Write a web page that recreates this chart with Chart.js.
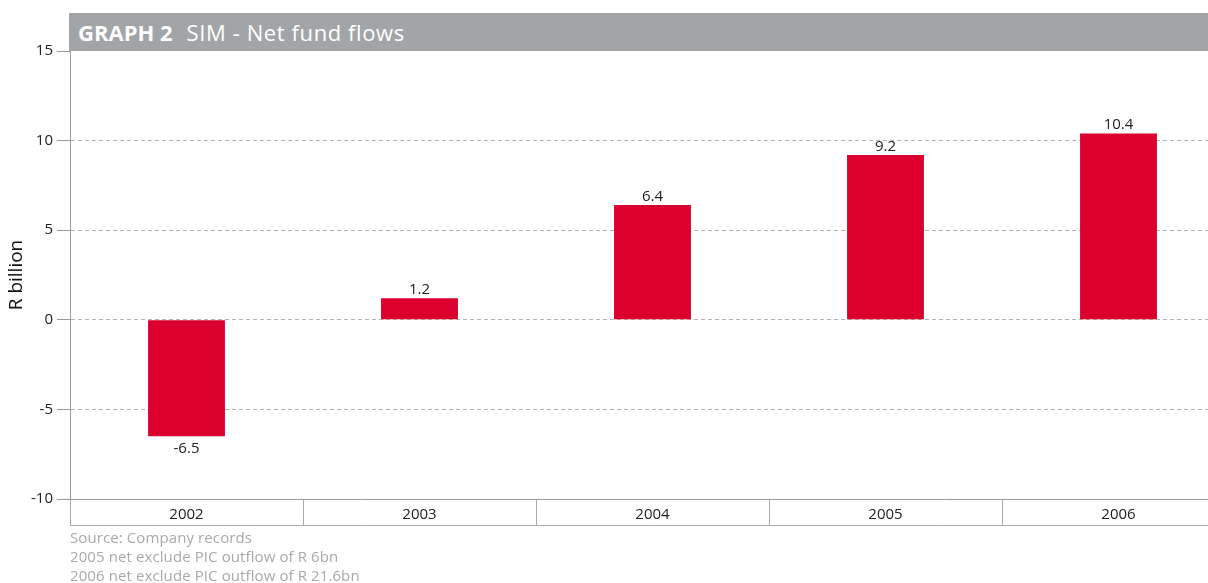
<!DOCTYPE html>
<html>
<head>
<meta charset="utf-8">
<script src="https://cdn.jsdelivr.net/npm/chart.js@4.4.1/dist/chart.umd.min.js"></script>
<style>
  html, body { margin: 0; padding: 0; background: #fff; overflow: hidden; }
  body { width: 1208px; height: 583px; position: relative; font-family: "Open Sans", sans-serif; }
  #wrap { position: absolute; left: 0; top: 0; width: 1235px; height: 583px; }
  #titlebar {
    position: absolute; left: 69px; top: 13px; width: 1139px; height: 38px;
    background: #a2a5a8; color: #fff; font-size: 22px; line-height: 38px;
    padding-left: 9px; box-sizing: border-box; white-space: nowrap;
  }
  #titlebar b { font-weight: 700; margin-right: 14px; }
  #titlebar span { letter-spacing: 0.6px; }
  #notes {
    position: absolute; left: 70px; top: 528px; color: #a9a9a9;
    font-size: 15px; line-height: 19px; letter-spacing: 0.1px;
  }
</style>
</head>
<body>
<div id="wrap"><canvas id="flowChart"></canvas></div>
<div id="titlebar"><b>GRAPH 2</b><span>SIM - Net fund flows</span></div>
<div id="notes">
  Source: Company records<br>
  2005 net exclude PIC outflow of R 6bn<br>
  2006 net exclude PIC outflow of R 21.6bn
</div>
<script>
const years = ['2002', '2003', '2004', '2005', '2006'];
const netFlows = [-6.5, 1.2, 6.4, 9.2, 10.4];
const yTicks = [-10, -5, 0, 5, 10, 15];

const ctx = document.getElementById('flowChart').getContext('2d');

// value labels above / below each bar
const barLabels = {
  id: 'barLabels',
  afterDatasetsDraw(chart) {
    const c = chart.ctx;
    const meta = chart.getDatasetMeta(0);
    c.save();
    c.font = '15px "Open Sans"';
    c.fillStyle = '#222';
    c.textAlign = 'center';
    meta.data.forEach((bar, i) => {
      const v = netFlows[i];
      if (v >= 0) {
        c.textBaseline = 'bottom';
        c.fillText(v.toFixed(1), bar.x, bar.y - 1);
      } else {
        c.textBaseline = 'top';
        c.fillText(v.toFixed(1), bar.x, bar.y + 5);
      }
    });
    c.restore();
  }
};

// bottom line of the category row
const rowLine = {
  id: 'rowLine',
  afterDraw(chart) {
    const c = chart.ctx;
    const a = chart.chartArea;
    c.save();
    c.strokeStyle = '#aaa';
    c.lineWidth = 1;
    c.beginPath();
    c.moveTo(a.left, a.bottom + 26.5);
    c.lineTo(a.right, a.bottom + 26.5);
    c.stroke();
    c.restore();
  }
};

new Chart(ctx, {
  type: 'bar',
  data: {
    labels: years,
    datasets: [{
      data: netFlows,
      backgroundColor: '#dc002e',
      borderWidth: 0,
      barPercentage: 0.33,
      categoryPercentage: 1
    }]
  },
  options: {
    responsive: true,
    maintainAspectRatio: false,
    animation: false,
    layout: { padding: { top: 51, bottom: 58, left: 0, right: 0 } },
    plugins: {
      legend: { display: false },
      tooltip: { enabled: false }
    },
    scales: {
      x: {
        offset: true,
        border: { display: true, color: '#999' },
        grid: {
          offset: true,
          drawOnChartArea: false,
          drawTicks: true,
          tickLength: 26,
          tickColor: '#aaa'
        },
        ticks: {
          color: '#222',
          font: { family: 'Open Sans', size: 15 },
          padding: -19,
          maxRotation: 0
        },
        afterFit(scale) { scale.height = 26; }
      },
      y: {
        min: yTicks[0],
        max: yTicks[yTicks.length - 1],
        afterBuildTicks(scale) { scale.ticks = yTicks.map(v => ({ value: v })); },
        border: { display: true, color: '#999', dash: [4, 3] },
        grid: {
          color: c => (c.tick && (c.tick.value === 15 || c.tick.value === -10)) ? 'rgba(0,0,0,0)' : '#b4b4b4',
          tickLength: 13,
          tickColor: '#999',
          tickBorderDash: []
        },
        ticks: {
          color: '#222',
          font: { family: 'Open Sans', size: 15 },
          padding: 4
        },
        title: {
          display: true,
          text: 'R billion',
          color: '#111',
          font: { family: 'Open Sans', size: 19 },
          padding: { top: 5, bottom: 0 }
        },
        afterFit(scale) { scale.width = 70; }
      }
    }
  },
  plugins: [barLabels, rowLine]
});
</script>
</body>
</html>
